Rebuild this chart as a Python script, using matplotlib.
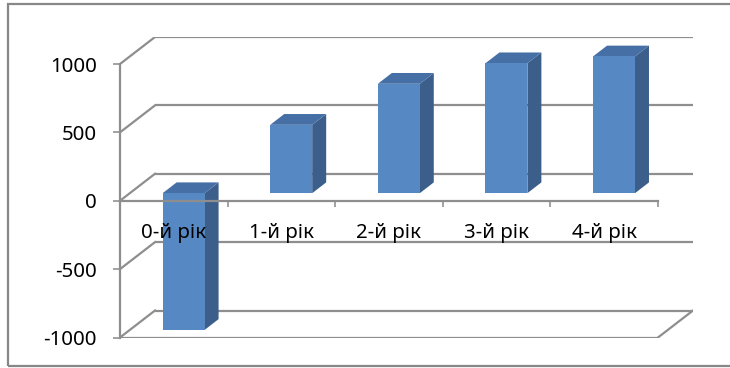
import matplotlib
matplotlib.use("Agg")
import matplotlib.pyplot as plt
from matplotlib.patches import Polygon, Rectangle
from matplotlib.ticker import FixedLocator

# ---- data ----
categories = ["0-й рік", "1-й рік", "2-й рік", "3-й рік", "4-й рік"]
values = [-1000, 500, 800, 950, 1000]
y_ticks = [-1000, -500, 0, 500, 1000]

# ---- style ----
FONT = ["Noto Sans", "DejaVu Sans"]
FS = 14.7
GRID = "#8e8e8e"
FRONT = "#5689c4"
SIDE = "#3c5e8a"
TOP = "#4670a5"
DEPTH_PX = (35.0, 27.0)     # oblique offset of the back wall, pixels
D0, D1 = 0.28, 0.68         # bar depth position (fraction of depth)
BAR_W = 0.39

W_PX, H_PX = 730, 368
fig = plt.figure(figsize=(W_PX / 100, H_PX / 100), dpi=100)
fig.patch.set_facecolor("white")

# axes occupies the whole projected box (front-left/bottom to back-right/top)
ax_l, ax_r, ax_t, ax_b = 120, 693, 37, 337.5
ax = fig.add_axes([ax_l / W_PX, (H_PX - ax_b) / H_PX,
                   (ax_r - ax_l) / W_PX, (ax_b - ax_t) / H_PX])
aw, ah = ax_r - ax_l, ax_b - ax_t

n = len(categories)
xspan = n
yspan = y_ticks[-1] - y_ticks[0]
DX = DEPTH_PX[0] * xspan / (aw - DEPTH_PX[0])
DY = DEPTH_PX[1] * yspan / (ah - DEPTH_PX[1])
x0, x1 = -0.5, n - 0.5
ymin, ymax = y_ticks[0], y_ticks[-1]
ax.set_xlim(x0, x1 + DX)
ax.set_ylim(ymin, ymax + DY)
ax.patch.set_alpha(0)

lw = 1.6
# back wall gridlines + left wall diagonals
for v in y_ticks:
    ax.plot([x0 + DX, x1 + DX], [v + DY, v + DY], color=GRID, lw=lw, zorder=0.5,
            solid_capstyle="butt")
    ax.plot([x0, x0 + DX], [v, v + DY], color=GRID, lw=lw, zorder=0.5)
# floor front edge and right edge
ax.plot([x0, x1], [ymin, ymin], color=GRID, lw=lw, zorder=0.6, solid_capstyle="butt")
ax.plot([x1, x1 + DX], [ymin, ymin + DY], color=GRID, lw=lw, zorder=0.6)

# bars
t = D1 - D0
for i, v in enumerate(values):
    bx0 = i - BAR_W / 2 + D0 * DX
    bx1 = i + BAR_W / 2 + D0 * DX
    lo = min(0, v) + D0 * DY
    hi = max(0, v) + D0 * DY
    ax.add_patch(Polygon([(bx1, lo), (bx1 + t * DX, lo + t * DY),
                          (bx1 + t * DX, hi + t * DY), (bx1, hi)],
                         closed=True, facecolor=SIDE, edgecolor="none", zorder=1))
    ax.add_patch(Polygon([(bx0, hi), (bx1, hi), (bx1 + t * DX, hi + t * DY),
                          (bx0 + t * DX, hi + t * DY)],
                         closed=True, facecolor=TOP, edgecolor="none", zorder=1))
    ax.add_patch(Rectangle((bx0, lo), bx1 - bx0, hi - lo,
                           facecolor=FRONT, edgecolor="none", zorder=1.1))

# axes
ax.set_axisbelow(False)
for s in ("top", "right"):
    ax.spines[s].set_visible(False)
ax.spines["left"].set_bounds(ymin, ymax)
ax.spines["left"].set_color(GRID)
ax.spines["left"].set_linewidth(lw)
ax.spines["bottom"].set_position(("data", 0))
ax.spines["bottom"].set_bounds(x0, x1)
ax.spines["bottom"].set_color(GRID)
ax.spines["bottom"].set_linewidth(lw)
ax.spines["bottom"].set_zorder(3)
ax.spines["left"].set_zorder(3)

ax.set_yticks(y_ticks)
ax.set_yticklabels([str(v) for v in y_ticks], fontfamily=FONT, fontsize=FS)
ax.tick_params(axis="y", direction="out", length=5, width=lw * 0.72, color=GRID,
               pad=11.5, labelcolor="black")

ax.set_xticks(range(n))
ax.set_xticklabels(categories, fontfamily=FONT, fontsize=FS)
ax.xaxis.set_minor_locator(FixedLocator([i - 0.5 for i in range(n + 1)]))
ax.tick_params(axis="x", which="major", length=0, pad=16, labelcolor="black")
ax.tick_params(axis="x", which="minor", direction="out", length=4.3,
               width=lw * 0.72, color=GRID)
for lab in ax.get_xticklabels():
    lab.set_zorder(4)
ax.xaxis.set_zorder(3.5)

# outer chart border (its right edge lies beyond the image)
fig.add_artist(Rectangle((8 / W_PX, 2 / H_PX), 740 / W_PX, 362 / H_PX,
                         transform=fig.transFigure, fill=False,
                         edgecolor="#878787", lw=1.6))

fig.savefig("out.png", dpi=100, facecolor="white")
